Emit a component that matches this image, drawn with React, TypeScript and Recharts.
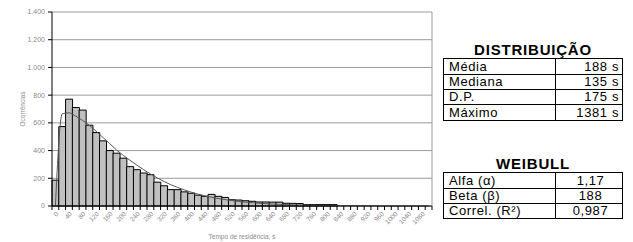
import React from 'react';
import { ComposedChart, Bar, Line, XAxis, YAxis, CartesianGrid, Label } from 'recharts';

// bin start (s), 20 s bins
const bins = [
  0, 20, 40, 60, 80, 100, 120, 140, 160, 180, 200, 220, 240, 260, 280, 300, 320, 340, 360, 380,
  400, 420, 440, 460, 480, 500, 520, 540, 560, 580, 600, 620, 640, 660, 680, 700, 720, 740, 760, 780,
  800, 820, 840, 860, 880, 900, 920, 940, 960, 980, 1000, 1020, 1040, 1060, 1080, 1100,
];

// observed counts per bin
const counts = [
  186, 573, 771, 711, 692, 583, 530, 470, 400, 381, 345, 284, 262, 238, 226, 172, 146, 118, 118, 102,
  92, 78, 70, 84, 70, 62, 45, 43, 38, 34, 29, 29, 28, 28, 20, 19, 18, 10, 10, 10,
  10, 10, 0, 0, 0, 0, 0, 0, 0, 0, 0, 0, 0, 0, 0, 0,
];

// fitted weibull curve
const weibullFit = [
  0, 665, 672, 648, 618, 582, 540, 495, 450, 405, 365, 330, 295, 262, 232, 203, 177, 154, 134, 116,
  100, 86, 74, 63, 54, 46, 39, 33, 28, 24, 20, 17, 14, 12, 10, 8, 7, 6, 5, 4,
  3, 3, 2, 2, 1, 1, 1, 1, 0, 0, 0, 0, 0, 0, 0, 0,
];

const yTicks = [0, 200, 400, 600, 800, 1000, 1200, 1400];

const distRows = [
  ['Média', '188 s'],
  ['Mediana', '135 s'],
  ['D.P.', '175 s'],
  ['Máximo', '1381 s'],
];

const weibullRows = [
  ['Alfa (α)', '1,17'],
  ['Beta (β)', '188'],
  ['Correl. (R²)', '0,987'],
];

const data = bins.map((b, i) => ({ t: b, n: counts[i], fit: weibullFit[i] }));

const FONT = '"Liberation Sans", Arial, sans-serif';
const PLOT_W = 380;

const fmtThousands = (v: number) =>
  v >= 1000 ? `${Math.floor(v / 1000)}.${String(v % 1000).padStart(3, '0')}` : String(v);

const XTick = (props: any) => {
  const { x, y, payload, index } = props;
  const half = payload && payload.offset ? payload.offset : PLOT_W / bins.length / 2;
  const isLast = index === bins.length - 1;
  return (
    <g>
      <line x1={x - half} y1={y} x2={x - half} y2={y + 4} stroke="#000" />
      {isLast && <line x1={x + half} y1={y} x2={x + half} y2={y + 4} stroke="#000" />}
      {index % 2 === 0 && (
        <text
          x={x}
          y={y + 5}
          transform={`rotate(-45 ${x} ${y + 5})`}
          textAnchor="end"
          dominantBaseline="hanging"
          fontSize={6.5}
          fill="#8a8a8a"
          fontFamily={FONT}
        >
          {payload.value}
        </text>
      )}
    </g>
  );
};

const YTitle = (props: any) => {
  const vb = props.viewBox;
  const cx = vb.x + 22;
  const cy = vb.y + vb.height / 2;
  return (
    <text
      x={cx}
      y={cy}
      transform={`rotate(-90 ${cx} ${cy})`}
      textAnchor="middle"
      dominantBaseline="central"
      fontSize={6.5}
      fill="#8a8a8a"
      fontFamily={FONT}
    >
      Ocorrências
    </text>
  );
};

const StatTable = ({ rows, top, heights, valueAlign }: any) => (
  <div
    style={{
      position: 'absolute',
      left: 443,
      top,
      width: 180,
      boxSizing: 'border-box',
      borderTop: '1px solid #000',
      borderLeft: '1px solid #000',
      fontFamily: FONT,
      fontSize: 13,
      letterSpacing: 0.6,
      color: '#000',
    }}
  >
    {rows.map((r: string[], i: number) => (
      <div
        key={i}
        style={{
          display: 'flex',
          height: heights[i],
          lineHeight: `${heights[i] - 1}px`,
          boxSizing: 'border-box',
          borderBottom: '1px solid #000',
        }}
      >
        <div
          style={{
            width: 112,
            boxSizing: 'border-box',
            borderRight: '1px solid #000',
            paddingLeft: 5,
            whiteSpace: 'nowrap',
          }}
        >
          {r[0]}
        </div>
        <div
          style={{
            flex: 1,
            boxSizing: 'border-box',
            borderRight: '1px solid #000',
            textAlign: valueAlign,
            paddingRight: valueAlign === 'right' ? 3 : 0,
            paddingLeft: valueAlign === 'center' ? 3 : 0,
            whiteSpace: 'nowrap',
          }}
        >
          {r[1]}
        </div>
      </div>
    ))}
  </div>
);

const titleStyle = (top: number): React.CSSProperties => ({
  position: 'absolute',
  left: 443,
  top,
  width: 180,
  textAlign: 'center',
  fontFamily: FONT,
  fontWeight: 'bold',
  fontSize: 15,
  letterSpacing: 0.8,
  lineHeight: '15px',
  color: '#000',
});

export default function App() {
  return (
    <div style={{ position: 'absolute', left: 0, top: 0, width: 633, height: 242, background: '#fff' }}>
      <ComposedChart
        width={440}
        height={242}
        data={data}
        margin={{ top: 12, right: 7, left: 0, bottom: 0 }}
        barCategoryGap={0}
        barGap={0}
      >
        <CartesianGrid vertical={false} stroke="#9a9a9a" />
        <XAxis
          dataKey="t"
          height={36}
          interval={0}
          tickSize={0}
          tickMargin={0}
          tickLine={false}
          axisLine={{ stroke: '#000' }}
          tick={<XTick />}
        >
          <Label
            value="Tempo de residência, s"
            position="insideBottom"
            offset={3}
            fontSize={6.5}
            fill="#8a8a8a"
            fontFamily={FONT}
          />
        </XAxis>
        <YAxis
          width={52}
          domain={[0, 1400]}
          ticks={yTicks}
          tickFormatter={fmtThousands}
          tickSize={4}
          tickMargin={3}
          axisLine={{ stroke: '#000' }}
          tickLine={{ stroke: '#000' }}
          tick={{ fontSize: 7, fill: '#8a8a8a', fontFamily: FONT }}
        >
          <Label content={<YTitle />} />
        </YAxis>
        <YAxis
          yAxisId="frame"
          orientation="right"
          width={1}
          domain={[0, 1400]}
          tick={false}
          tickLine={false}
          axisLine={{ stroke: '#9a9a9a' }}
        />
        <Bar dataKey="n" fill="#c0c0c0" stroke="#000" strokeWidth={1} isAnimationActive={false} />
        <Line
          dataKey="fit"
          type="monotone"
          stroke="#555"
          strokeWidth={1}
          dot={false}
          isAnimationActive={false}
        />
      </ComposedChart>

      <div style={titleStyle(42)}>DISTRIBUIÇÃO</div>
      <StatTable rows={distRows} top={58} heights={[16, 15, 15, 16]} valueAlign="right" />

      <div style={titleStyle(156)}>WEIBULL</div>
      <StatTable rows={weibullRows} top={172} heights={[16, 15, 15]} valueAlign="center" />
    </div>
  );
}
